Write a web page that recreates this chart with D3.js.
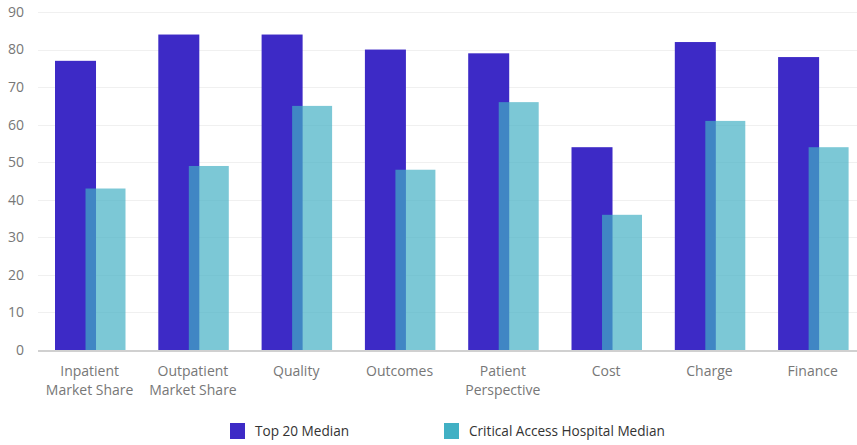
<!DOCTYPE html>
<html>
<head>
<meta charset="utf-8">
<script src="https://cdn.jsdelivr.net/npm/d3@7"></script>
<style>
  body { margin: 0; background: #fff; }
  svg { display: block; font-family: "Open Sans", "Noto Sans", sans-serif; }
</style>
</head>
<body>
<svg id="chart" width="857" height="445"></svg>
<script>
var categories = [
    ["Inpatient", "Market Share"],
    ["Outpatient", "Market Share"],
    ["Quality"],
    ["Outcomes"],
    ["Patient", "Perspective"],
    ["Cost"],
    ["Charge"],
    ["Finance"]
];
var top20Median = [77, 84, 84, 80, 79, 54, 82, 78];
var criticalAccessMedian = [43, 49, 65, 48, 66, 36, 61, 54];
var yTicks = [0, 10, 20, 30, 40, 50, 60, 70, 80, 90];
var seriesNames = ["Top 20 Median", "Critical Access Hospital Median"];
var seriesColors = ["#3d2ac6", "#41b0c4"];

var svg = d3.select("#chart");
var plotLeft = 38, plotRight = 857, plotTop = 12, plotBottom = 350;

// bands run a bit past the right edge, like the original
var x = d3.scaleBand()
    .domain(d3.range(categories.length))
    .range([plotLeft, plotLeft + 8 * 103.3]);
var y = d3.scaleLinear().domain([0, 90]).range([plotBottom, plotTop]);
var bw = x.bandwidth();

// grid
svg.append("g").selectAll("line")
    .data(yTicks.filter(function(d) { return d > 0; }))
    .join("line")
    .attr("x1", plotLeft).attr("x2", plotRight)
    .attr("y1", function(d) { return Math.round(y(d)) + 0.5; })
    .attr("y2", function(d) { return Math.round(y(d)) + 0.5; })
    .attr("stroke", "#f0f0f0");

// y labels
svg.append("g").selectAll("text")
    .data(yTicks)
    .join("text")
    .attr("x", 24)
    .attr("y", function(d) { return y(d); })
    .attr("dy", "0.35em")
    .attr("text-anchor", "end")
    .attr("fill", "#777")
    .attr("font-size", 14)
    .text(function(d) { return d; });

// bars
svg.append("g").selectAll("rect")
    .data(top20Median)
    .join("rect")
    .attr("x", function(d, i) { return x(i) + bw * 0.1646; })
    .attr("width", bw * 0.397)
    .attr("y", function(d) { return y(d); })
    .attr("height", function(d) { return plotBottom - y(d); })
    .attr("fill", seriesColors[0]);

svg.append("g").selectAll("rect")
    .data(criticalAccessMedian)
    .join("rect")
    .attr("x", function(d, i) { return x(i) + bw * 0.46; })
    .attr("width", bw * 0.387)
    .attr("y", function(d) { return y(d); })
    .attr("height", function(d) { return plotBottom - y(d); })
    .attr("fill", seriesColors[1])
    .attr("fill-opacity", 0.69);

// baseline
svg.append("line")
    .attr("x1", plotLeft).attr("x2", plotRight)
    .attr("y1", plotBottom + 1).attr("y2", plotBottom + 1)
    .attr("stroke", "#d0d0d0").attr("stroke-width", 2);

// category labels
var cat = svg.append("g").selectAll("text")
    .data(categories)
    .join("text")
    .attr("x", function(d, i) { return x(i) + bw / 2; })
    .attr("y", 376)
    .attr("text-anchor", "middle")
    .attr("fill", "#777")
    .attr("font-size", 14);
cat.selectAll("tspan")
    .data(function(d) { return d; })
    .join("tspan")
    .attr("x", function() { return this.parentNode.getAttribute("x"); })
    .attr("dy", function(d, i) { return i ? 19 : 0; })
    .text(function(d) { return d; });

// legend
var legendX = [230, 444];
var lg = svg.append("g").selectAll("g")
    .data(seriesNames)
    .join("g")
    .attr("transform", function(d, i) { return "translate(" + legendX[i] + ",423)"; });
lg.append("rect")
    .attr("width", 15).attr("height", 16)
    .attr("fill", function(d, i) { return seriesColors[i]; });
lg.append("text")
    .attr("x", 25).attr("y", 8).attr("dy", "0.35em")
    .attr("fill", "#333")
    .attr("font-size", 13.6)
    .text(function(d) { return d; });
</script>
</body>
</html>
